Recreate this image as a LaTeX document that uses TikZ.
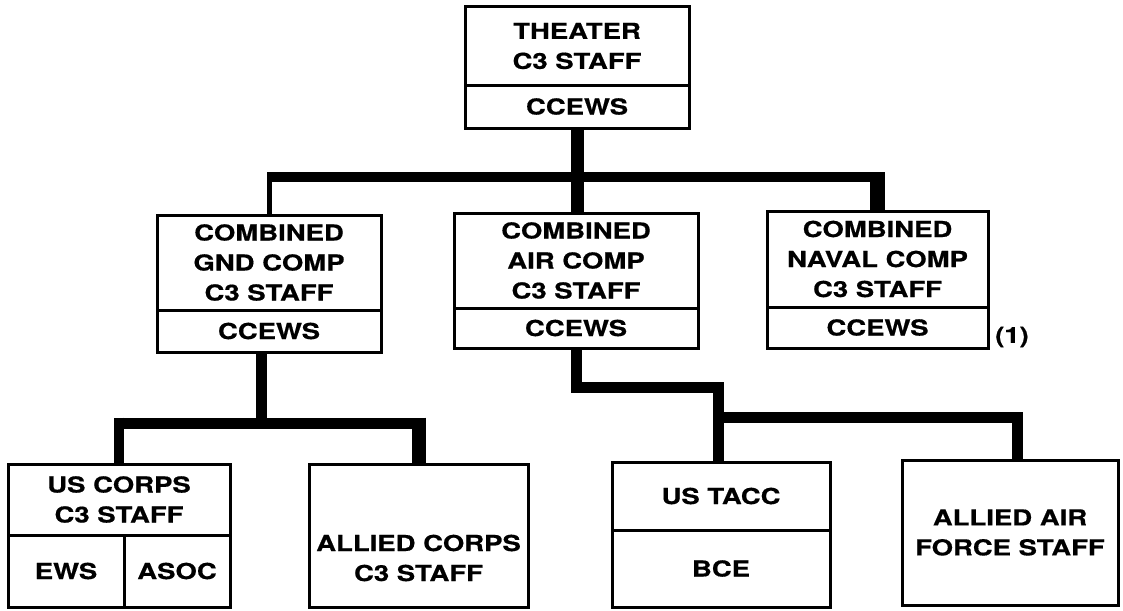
\documentclass[tikz,border=0pt]{standalone}
\usepackage{fontspec}
\newfontfamily\heros[FakeStretch=1.25, BoldFeatures={FakeBold=0.6}]{TeX Gyre Heros}
\usetikzlibrary{calc}
\begin{document}
\begin{tikzpicture}[x=1pt,y=-1pt,
  label font/.style={font=\heros\bfseries\fontsize{22}{30}\selectfont},
  box/.style={draw, line width=3pt, inner sep=0pt, outer sep=0pt,
    anchor=north west, align=center, label font},
  link/.style={draw, line join=miter, line cap=butt},
]
\useasboundingbox (0,0) rectangle (1123,610);

% ---- top level
\node[box, minimum width=224pt, minimum height=78pt] (theater) at (465,7) {THEATER\\C3 STAFF};
\node[box, minimum width=224pt, minimum height=43pt] (theaterws) at (465,85) {CCEWS};

% ---- component level
\node[box, minimum width=224pt, minimum height=95pt] (gndcomp) at (157,215) {COMBINED\\GND COMP\\C3 STAFF};
\node[box, minimum width=224pt, minimum height=42pt] (gndws) at (157,310) {CCEWS};

\node[box, minimum width=244pt, minimum height=95pt] (aircomp) at (454,213) {COMBINED\\AIR COMP\\C3 STAFF};
\node[box, minimum width=244pt, minimum height=40pt] (airws) at (454,308) {CCEWS};

\node[box, minimum width=221pt, minimum height=96pt] (navalcomp) at (767,211) {COMBINED\\NAVAL COMP\\C3 STAFF};
\node[box, minimum width=221pt, minimum height=41pt] (navalws) at (767,307) {CCEWS};
\node[label font, inner sep=0pt] (note) at (1012,337) {(1)};

% ---- corps / air force level
\node[box, minimum width=222pt, minimum height=71pt] (uscorps) at (8,464) {US CORPS\\C3 STAFF};
\node[box, minimum width=116pt, minimum height=72pt] (ews) at (8,535) {EWS};
\node[box, minimum width=106pt, minimum height=72pt] (asoc) at (124,535) {ASOC};

\node[box, minimum width=219pt, minimum height=143pt] (alliedcorps) at (309,464) {};
\node[label font, align=center, inner sep=0pt] (alliedcorpstext) at (418.5,558) {ALLIED CORPS\\C3 STAFF};

\node[box, minimum width=218pt, minimum height=68pt] (ustacc) at (612,462) {US TACC};
\node[box, minimum width=218pt, minimum height=77pt] (bce) at (612,530) {BCE};

\node[box, minimum width=216pt, minimum height=145pt] (alliedair) at (902,460) {ALLIED AIR\\FORCE STAFF};

% ---- connectors: theater to components
\coordinate (barW) at (267.5,177);
\coordinate (barE) at (885,177);
\draw[link, line width=13pt] (theaterws.south) -- (theaterws.south |- aircomp.north);
\draw[link, line width=10pt] (barW) -- (barE);
\draw[link, line width=5pt] ($(gndcomp.north |- barW)+(0,-5)$) -- (gndcomp.north);
\draw[link, line width=15pt] ($(navalcomp.north |- barW)+(0,-5)$) -- (navalcomp.north);

% ---- connectors: ground component to corps
\coordinate (gJ) at (261,423);
\coordinate (gbW) at (114,423);
\coordinate (gbE) at (425.5,423);
\draw[link, line width=11pt] (gndws.south -| gJ) -- (gJ);
\draw[link, line width=11pt] (gbW) -- (gbE);
\draw[link, line width=10pt] ($(uscorps.north |- gbW)+(0,-5.5)$) -- (uscorps.north);
\draw[link, line width=14pt] ($(alliedcorps.north |- gbW)+(0,-5.5)$) -- (alliedcorps.north);

% ---- connectors: air component to TACC and allied air force
\coordinate (aJ1) at (718,387);
\coordinate (aJ2) at (718,417);
\coordinate (aJ3) at (1017,417);
\draw[link, line width=11pt] (airws.south) |- (aJ1) -- (aJ1 |- ustacc.north);
\draw[link, line width=11pt] (aJ2) -| (aJ3 |- alliedair.north);
\end{tikzpicture}
\end{document}
